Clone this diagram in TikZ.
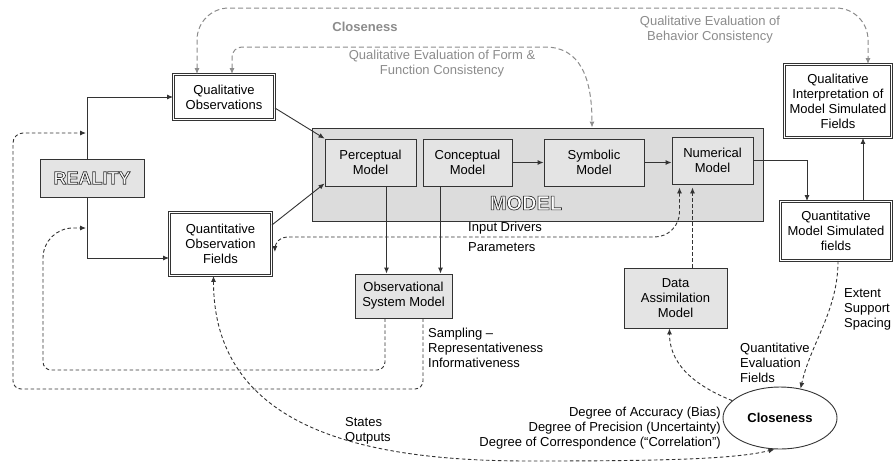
\documentclass[tikz,border=0pt]{standalone}
\usepackage{fontspec}
\setmainfont{Liberation Sans}
\usepackage{xcolor}
\usepackage{tikz}
\usetikzlibrary{arrows.meta, positioning, calc, shapes.geometric}
\definecolor{mline}{HTML}{333333}
\definecolor{mgray}{HTML}{8C8C8C}
\definecolor{mfill}{HTML}{E4E4E4}
\definecolor{mbig}{HTML}{DCDCDC}
% outlined capitals for REALITY / MODEL
\newcommand{\hollow}[1]{\special{pdf:literal direct 0.2 0.2 0.2 RG 2 Tr 0.7 w}#1\special{pdf:literal direct 0 Tr}}

\begin{document}
\begin{tikzpicture}[x=1pt, y=-1pt, font=\fontsize{13}{15}\selectfont,
  >={Latex[length=6pt,width=5pt]},
  box/.style={draw=mline, fill=mfill, line width=0.9pt, align=center, inner sep=0pt},
  dbox/.style={draw=mline, double=white, double distance=1.6pt, line width=0.8pt, fill=white, align=center, inner sep=0pt},
  arr/.style={draw=mline, line width=0.9pt, ->},
  gdash/.style={draw=mgray, line width=1pt, dash pattern=on 5pt off 3pt, <->},
  ddash/.style={draw=mline, line width=0.9pt, dash pattern=on 3.5pt off 2.5pt},
  lbl/.style={align=left, anchor=west, inner sep=0pt},
  glbl/.style={text=mgray, align=center, inner sep=0pt}]
\fill[white] (0,0) rectangle (896,464);
\useasboundingbox (0,0) rectangle (896,464);

% model frame and its four parts
\node[box, fill=mbig, minimum width=451pt, minimum height=93pt] (model) at (537.5,174.5) {};
\node[font=\fontsize{20}{20}\selectfont\bfseries, text=white] (modeltxt) at (526,203) {\hollow{MODEL}};
\node[box, minimum width=91pt, minimum height=47pt] (perc) at (370.5,162.5) {Perceptual\\Model};
\node[box, minimum width=89pt, minimum height=47pt] (conc) at (467.5,162.5) {Conceptual\\Model};
\node[box, minimum width=100pt, minimum height=47pt] (symb) at (594,162.5) {Symbolic\\Model};
\node[box, minimum width=81pt, minimum height=47pt] (num) at (712.5,160.5) {Numerical\\Model};

% observations side
\node[box, minimum width=104pt, minimum height=38pt, font=\fontsize{18}{18}\selectfont\bfseries, text=white] (real) at (92,178) {\hollow{REALITY}};
\node[dbox, minimum width=101pt, minimum height=45pt] (qo) at (224,97) {Qualitative\\Observations};
\node[dbox, minimum width=102pt, minimum height=63pt] (qof) at (220.5,244) {Quantitative\\Observation\\Fields};
\node[box, minimum width=97pt, minimum height=44pt] (osm) at (403.5,296) {Observational\\System Model};

% simulation side
\node[dbox, minimum width=107pt, minimum height=73pt] (qi) at (838,101) {Qualitative\\Interpretation of\\Model Simulated\\Fields};
\node[dbox, minimum width=111pt, minimum height=59pt] (qms) at (836,231) {Quantitative\\Model Simulated\\fields};
\node[box, minimum width=103pt, minimum height=60pt] (da) at (675.5,298) {Data\\Assimilation\\Model};
\node[ellipse, draw=mline, line width=0.9pt, fill=white, minimum width=114pt, minimum height=62pt, font=\fontsize{13}{15}\selectfont\bfseries] (clo) at (780,418) {Closeness};

\coordinate (qout) at (86,133);
\coordinate (qin) at (86,228);
\coordinate (outc) at (13,389);
\coordinate (inc) at (43,370);
\coordinate (topl) at (500,8);
\coordinate (midl) at (535,47);
\coordinate (drv) at (470,237);
\coordinate (botm) at (530,461);

% solid flow
\draw[arr] ([xshift=-5pt]real.north) |- (qo.west);
\draw[arr] ([xshift=-5pt]real.south) |- ([yshift=-14pt]qof.west);
\draw[arr] ([yshift=-11pt]qo.east) -- (perc.north west);
\draw[arr] ([yshift=19pt]qof.east) -- ([yshift=3pt]perc.south west);
\draw[arr] ([xshift=16pt]perc.south) -- ([xshift=16pt]perc.south |- osm.north);
\draw[arr] ([xshift=-27pt]conc.south) -- ([xshift=-27pt]conc.south |- osm.north);
\draw[arr] (conc.east) -- (symb.west);
\draw[arr] (symb.east) -- (num.west |- symb.east);
\draw[arr] (num.east) -| ([xshift=-29pt]qms.north);
\draw[arr] ([xshift=27pt]qms.north) -- ([xshift=27pt]qms.north |- qi.south);

% qualitative evaluation (gray)
\draw[gdash, rounded corners=32pt] ([xshift=-27pt]qo.north) |- (topl) -| ([xshift=30pt]qi.north);
\draw[gdash, rounded corners=10pt] ([xshift=8pt]qo.north) |- (midl) .. controls +(45,0) and +(0,-50) .. ([xshift=54.5pt]model.north);
\node[glbl, font=\fontsize{13}{15}\selectfont\bfseries] (clotop) at (365,27) {Closeness};
\node[glbl] (formlbl) at (442,64) {Qualitative Evaluation of Form \&\\Function Consistency};
\node[glbl] (behlbl) at (710,30) {Qualitative Evaluation of\\Behavior Consistency};

% quantitative links (dashed)
\draw[ddash, <->, rounded corners=25pt, shorten <=3pt] ([xshift=-33pt]num.south) |- (drv) [rounded corners=12pt] -| ([xshift=3pt,yshift=-8pt]qof.east);
\node[lbl] (drvlbl) at (468,228) {Input Drivers};
\node[lbl] (parlbl) at (468,247) {Parameters};
\draw[ddash, ->, shorten >=3pt] ([xshift=17pt]da.north) -- ([xshift=17pt]da.north |- num.south);
\draw[ddash, ->] (clo.160) .. controls +(-30,-12) and +(0,40) .. ([xshift=-6pt]da.south);
\draw[ddash, ->] ([xshift=2pt]qms.south) .. controls +(0,50) and +(10,-45) .. (clo.55);
\node[lbl] (extlbl) at (844,309.5) {Extent\\Support\\Spacing};
\node[lbl] (qevlbl) at (740,363) {Quantitative\\Evaluation\\Fields};
\draw[ddash, <->] ([xshift=-7pt]qof.south) .. controls +(0,160) and +(-150,0) .. (botm) .. controls +(130,0) and +(-40,10) .. (clo.-100);
\node[lbl] (stalbl) at (345,430.5) {States\\Outputs};
\node[align=right, anchor=east, inner sep=0pt] (deglbl) at (721,428) {Degree of Accuracy (Bias)\\Degree of Precision (Uncertainty)\\Degree of Correspondence (“Correlation”)};

% sampling loops back to reality
\draw[ddash, ->, rounded corners=8pt] ([xshift=-18.5pt]osm.south) |- (inc) [rounded corners=30pt] |- (qin);
\draw[ddash, ->, rounded corners=8pt] ([xshift=19.5pt]osm.south) |- (outc) [rounded corners=10pt] |- (qout);
\node[lbl] (samlbl) at (428,348) {Sampling –\\Representativeness\\Informativeness};
\end{tikzpicture}
\end{document}
